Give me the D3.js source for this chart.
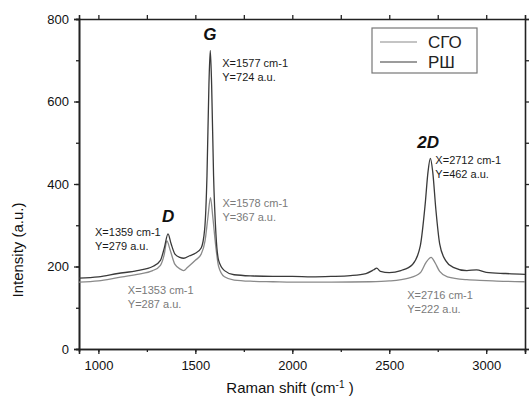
<!DOCTYPE html>
<html>
<head>
<meta charset="utf-8">
<script src="https://cdn.jsdelivr.net/npm/d3@7"></script>
<style>
  body { margin: 0; background: #fff; }
  svg { font-family: 'Liberation Sans', Arial, sans-serif; }
</style>
</head>
<body>
<svg id="chart" width="531" height="396"></svg>
<script>
// Raman spectra
const shiftRSH = [900, 1000, 1100, 1200, 1280, 1320, 1340, 1359, 1375, 1395, 1420, 1440, 1470, 1500, 1530, 1548, 1560, 1570, 1577, 1584, 1594, 1606, 1620, 1650, 1700, 1800, 1900, 2000, 2100, 2200, 2300, 2380, 2420, 2435, 2455, 2500, 2560, 2620, 2660, 2685, 2700, 2712, 2724, 2740, 2760, 2790, 2830, 2900, 2950, 3000, 3100, 3200];
const intensityRSH = [172, 175, 183, 190, 200, 215, 245, 279, 255, 230, 222, 220, 226, 232, 245, 290, 420, 640, 724, 640, 420, 280, 215, 190, 180, 177, 176, 176, 175, 176, 178, 183, 192, 196, 188, 185, 190, 205, 250, 350, 430, 462, 430, 340, 255, 215, 198, 190, 192, 186, 183, 181];

const shiftSGO = [900, 1000, 1100, 1200, 1280, 1320, 1340, 1353, 1370, 1395, 1425, 1440, 1460, 1500, 1530, 1550, 1565, 1578, 1590, 1605, 1620, 1650, 1700, 1800, 1900, 2000, 2200, 2400, 2500, 2600, 2660, 2690, 2716, 2735, 2760, 2800, 2900, 3000, 3100, 3200];
const intensitySGO = [162, 165, 173, 181, 190, 203, 230, 262, 240, 205, 193, 190, 198, 215, 230, 262, 320, 367, 320, 250, 200, 175, 167, 164, 163, 162, 162, 163, 165, 172, 185, 210, 222, 210, 188, 175, 168, 166, 164, 163];

const seriesNames = ['СГО', 'РШ'];
const xTicks = [1000, 1500, 2000, 2500, 3000];
const yTicks = [0, 200, 400, 600, 800];

const peakLetters = [
  { text: 'D', x: 1359, y: 279 },
  { text: 'G', x: 1577, y: 724 },
  { text: '2D', x: 2712, y: 462 }
];
const peakNotes = [
  { s: 'РШ', x: 1359, y: 279, lines: ['X=1359 cm-1', 'Y=279 a.u.'] },
  { s: 'РШ', x: 1577, y: 724, lines: ['X=1577 cm-1', 'Y=724 a.u.'] },
  { s: 'РШ', x: 2712, y: 462, lines: ['X=2712 cm-1', 'Y=462 a.u.'] },
  { s: 'СГО', x: 1353, y: 287, lines: ['X=1353 cm-1', 'Y=287 a.u.'] },
  { s: 'СГО', x: 1578, y: 367, lines: ['X=1578 cm-1', 'Y=367 a.u.'] },
  { s: 'СГО', x: 2716, y: 222, lines: ['X=2716 cm-1', 'Y=222 a.u.'] }
];

const margin = { top: 19, right: 6, bottom: 47, left: 79 };
const width = 531 - margin.left - margin.right;
const height = 396 - margin.top - margin.bottom;

const svg = d3.select('#chart');
const g = svg.append('g').attr('transform', 'translate(' + margin.left + ',' + margin.top + ')');

const x = d3.scaleLinear().domain([900, 3200]).range([0, width]);
const y = d3.scaleLinear().domain([0, 800]).range([height, 0]);
const color = d3.scaleOrdinal().domain(seriesNames).range(['#8a8a8a', '#3a3a3a']);

g.append('defs').append('clipPath')
  .attr('id', 'clip')
  .append('rect')
  .attr('width', width)
  .attr('height', height);

// minor ticks first, major ticks + labels on top
const xMinor = d3.range(1000, 3201, 250);
const yMinor = d3.range(0, 801, 100);

function styleAxis(sel) {
  sel.selectAll('.domain').attr('stroke', '#222').attr('stroke-width', 1.6);
  sel.selectAll('.tick line').attr('stroke', '#222').attr('stroke-width', 1.3);
  sel.selectAll('.tick text').attr('fill', '#111').style('font-size', '13px');
}

g.append('g').attr('transform', 'translate(0,' + height + ')')
  .call(d3.axisBottom(x).tickValues(xMinor).tickSize(3).tickFormat(''))
  .call(styleAxis);
g.append('g').attr('transform', 'translate(0,' + height + ')')
  .call(d3.axisBottom(x).tickValues(xTicks).tickSize(5).tickPadding(7).tickFormat(d3.format('d')))
  .call(styleAxis);
g.append('g')
  .call(d3.axisTop(x).tickValues(xMinor).tickSize(4).tickFormat(''))
  .call(styleAxis);
g.append('g')
  .call(d3.axisLeft(y).tickValues(yMinor).tickSize(3).tickFormat(''))
  .call(styleAxis);
g.append('g')
  .call(d3.axisLeft(y).tickValues(yTicks).tickSize(5).tickPadding(5))
  .call(styleAxis);
g.append('g').attr('transform', 'translate(' + width + ',0)')
  .call(d3.axisRight(y).tickValues(yMinor).tickSize(4).tickFormat(''))
  .call(styleAxis);

// axis titles
svg.append('text')
  .attr('transform', 'translate(23,250) rotate(-90)')
  .attr('text-anchor', 'middle')
  .attr('fill', '#111')
  .style('font-size', '15px')
  .text('Intensity (a.u.)');

const xt = svg.append('text')
  .attr('x', 290).attr('y', 393)
  .attr('text-anchor', 'middle')
  .attr('fill', '#111')
  .style('font-size', '15px');
xt.append('tspan').text('Raman shift (cm');
xt.append('tspan').attr('dy', -5).style('font-size', '10px').text('-1');
xt.append('tspan').attr('dy', 5).text(' )');

// spectra
const line = d3.line()
  .curve(d3.curveMonotoneX)
  .x(d => x(d[0]))
  .y(d => y(d[1]));

const spectra = [
  { id: 'СГО', values: d3.zip(shiftSGO, intensitySGO) },
  { id: 'РШ', values: d3.zip(shiftRSH, intensityRSH) }
];

g.append('g').attr('clip-path', 'url(#clip)')
  .selectAll('path')
  .data(spectra)
  .enter().append('path')
  .attr('fill', 'none')
  .attr('stroke', d => color(d.id))
  .attr('stroke-width', 1.3)
  .attr('stroke-linejoin', 'round')
  .attr('d', d => line(d.values));

// peak letters
const letterOffset = { 'D': [-6, -12], 'G': [-7, -10], '2D': [-13, -10] };
g.selectAll('.peak')
  .data(peakLetters)
  .enter().append('text')
  .attr('class', 'peak')
  .attr('x', d => x(d.x) + letterOffset[d.text][0])
  .attr('y', d => y(d.y) + letterOffset[d.text][1])
  .attr('fill', '#111')
  .style('font-size', '17px')
  .style('font-weight', 'bold')
  .style('font-style', 'italic')
  .text(d => d.text);

// peak value notes, offsets from the peak they describe
const noteOffset = {
  '1359': [-73, 2], '1577': [12, 17], '2712': [5, 6],
  '1353': [-39, 63], '1578': [12, 9], '2716': [-24, 42]
};
const notes = g.selectAll('.note')
  .data(peakNotes)
  .enter().append('text')
  .attr('class', 'note')
  .attr('fill', d => d.s === 'РШ' ? '#1a1a1a' : '#7a7a7a')
  .style('font-size', '11px')
  .attr('transform', d => {
    const o = noteOffset[d.x];
    return 'translate(' + (x(d.x) + o[0]) + ',' + (y(d.y) + o[1]) + ')';
  });
notes.selectAll('tspan')
  .data(d => d.lines)
  .enter().append('tspan')
  .attr('x', 0)
  .attr('dy', (d, i) => i === 0 ? 0 : 14)
  .text(d => d);

// legend
const legend = svg.append('g').attr('transform', 'translate(372,28)');
legend.append('rect')
  .attr('width', 105).attr('height', 45)
  .attr('fill', '#fff')
  .attr('stroke', '#777')
  .attr('stroke-width', 1.2);
const items = legend.selectAll('.item')
  .data(seriesNames)
  .enter().append('g')
  .attr('transform', (d, i) => 'translate(0,' + (14 + i * 20) + ')');
items.append('line')
  .attr('x1', 8).attr('x2', 45)
  .attr('stroke', d => color(d))
  .attr('stroke-width', 1.2);
items.append('text')
  .attr('x', 56).attr('dy', '0.36em')
  .attr('fill', '#222')
  .style('font-size', '17px')
  .text(d => d);
</script>
</body>
</html>
